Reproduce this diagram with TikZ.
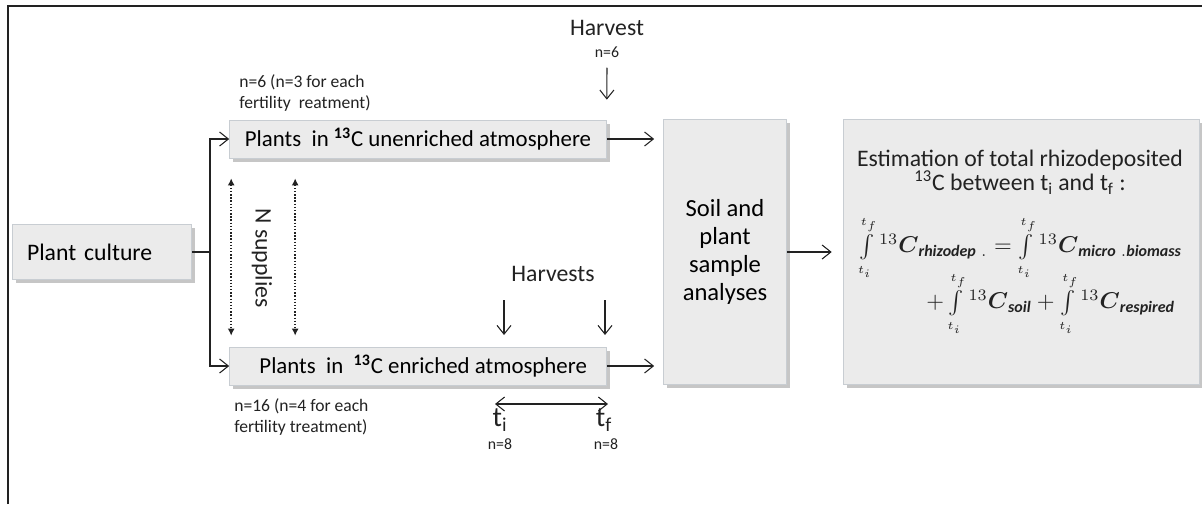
\documentclass[tikz,border=0pt]{standalone}
\usepackage{amsmath}
\usepackage{fontspec}
\setmainfont{Carlito}
\usepackage{tikz}
\usetikzlibrary{arrows.meta, shadows}
\usepackage{xcolor}

\definecolor{boxfill}{HTML}{EBEBEB}
\definecolor{boxline}{HTML}{C8CDD2}
\definecolor{inkc}{HTML}{222222}

\newcommand{\rint}{\textstyle\int\limits_{\scriptscriptstyle t_i}^{\scriptscriptstyle t_f}}

\tikzset{
  greybox/.style={draw=boxline, fill=boxfill, inner sep=0pt,
    drop shadow={opacity=0.45, shadow xshift=2pt, shadow yshift=-2pt}},
  flow/.style={-{Straight Barb[length=5pt,width=8pt]}, semithick, inkc},
  supply/.style={{Latex[length=4pt,width=4pt]}-{Latex[length=4pt,width=4pt]}, densely dotted, thick, inkc},
  note/.style={font=\fontsize{10}{12}\selectfont, text=inkc, align=left, inner sep=0pt},
  lab/.style={font=\fontsize{13.5}{16}\selectfont, text=inkc, inner sep=0pt},
  eq/.style={inkc, anchor=west, inner sep=0pt, scale=1.3}
}

\begin{document}
\begin{tikzpicture}[x=0.02cm, y=-0.02cm]
    \useasboundingbox (0,0) rectangle (1202,504);
    % frame
    \draw[inkc, line width=1.3pt] (8,504) -- (8,6) -- (1202,6);

    % boxes
    \node[greybox, minimum width=3.58cm, minimum height=1.1cm, text width=3.0cm, align=left,
          font=\fontsize{13.5}{16}\selectfont] (cult) at (102,252) {Plant culture};
    \node[greybox, minimum width=7.54cm, minimum height=0.76cm, font=\fontsize{13}{16}\selectfont]
          (unenr) at (418,139) {Plants\ \ in \textsuperscript{\textbf{13}}C unenriched\ atmosphere};
    \node[greybox, minimum width=7.54cm, minimum height=0.76cm, font=\fontsize{13}{16}\selectfont]
          (enr) at (418,366) {\ \ Plants\ \ in\ \ \textsuperscript{\textbf{13}}C enriched atmosphere};
    \node[greybox, minimum width=2.46cm, minimum height=5.3cm, align=center,
          font=\fontsize{14}{16}\selectfont] (soil) at (725,252)
          {Soil and\\plant\\sample\\analyses};
    \node[greybox, minimum width=7.12cm, minimum height=5.3cm] (est) at (1021,252) {};

    % notes on the two chambers
    \node[note, anchor=west] (nun) at (239,93) {n=6 (n=3 for each\\fertility\ \ reatment)};
    \node[note, anchor=west] (nen) at (234,417) {n=16 (n=4 for each\\fertility treatment)};
    \node[lab, rotate=-90] (nsup) at (262,258) {N supplies};

    % harvests
    \node[lab] (harv) at (607,28) {Harvest};
    \node[note, font=\fontsize{9}{11}\selectfont] (harvn) at (607,52) {n=6};
    \node[lab] (harvs) at (553,274) {Harvests};
    \node[lab, font=\fontsize{16}{18}\selectfont] (ti) at (500,420) {t\textsubscript{i}};
    \node[lab, font=\fontsize{16}{18}\selectfont] (tf) at (604,420) {t\textsubscript{f}};
    \node[note, font=\fontsize{9}{11}\selectfont] (tin) at (500,444) {n=8};
    \node[note, font=\fontsize{9}{11}\selectfont] (tfn) at (606,444) {n=8};

    % estimation text
    \node[lab, align=center, font=\fontsize{13.5}{14}\selectfont] (esttitle) at (1020,172)
          {Estimation of total rhizodeposited\\\textsuperscript{13}C between t\textsubscript{i} and t\textsubscript{f} :};
    \node[eq] (eqa) at (858,248)
          {$\rint{}^{13}\boldsymbol{C}_{\textit{\textbf{rhizodep}}\;.}
           = \rint{}^{13}\boldsymbol{C}_{\textit{\textbf{micro}}\;.\textit{\textbf{biomass}}}$};
    \node[eq] (eqb) at (926,304)
          {$+\rint{}^{13}\boldsymbol{C}_{\textit{\textbf{soil}}}
           +\rint{}^{13}\boldsymbol{C}_{\textit{\textbf{respired}}}$};

    % connectors
    \coordinate (fork) at (210,252);
    \draw[semithick, inkc] (cult.east) -- (fork);
    \draw[flow] (fork) |- (unenr.west);
    \draw[flow] (fork) |- (enr.west);
    \draw[supply] ([xshift=0.04cm, yshift=-0.4cm]unenr.south west) -- ([xshift=0.04cm, yshift=0.22cm]enr.north west);
    \draw[supply] ([xshift=1.32cm, yshift=-0.4cm]unenr.south west) -- ([xshift=1.32cm, yshift=0.22cm]enr.north west);
    \draw[flow, shorten >=0.18cm] (unenr.east) -- (unenr.east -| soil.west);
    \draw[flow, shorten >=0.18cm] (enr.east) -- (enr.east -| soil.west);
    \draw[flow, shorten >=0.22cm] (soil.east) -- (est.west);
    \draw[flow] ([yshift=-0.2cm]harvn.south) -- ([yshift=0.4cm]unenr.north east);
    \coordinate (hti) at (504,300);
    \coordinate (htf) at (605,300);
    \draw[flow] (hti) -- (hti |- 0,335);
    \draw[flow] (htf) -- (htf |- 0,335);
    \coordinate (spanl) at (495,404);
    \coordinate (spanr) at (608,404);
    \draw[flow, {Straight Barb[length=5pt,width=8pt]}-{Straight Barb[length=5pt,width=8pt]}] (spanl) -- (spanr);
\end{tikzpicture}
\end{document}
